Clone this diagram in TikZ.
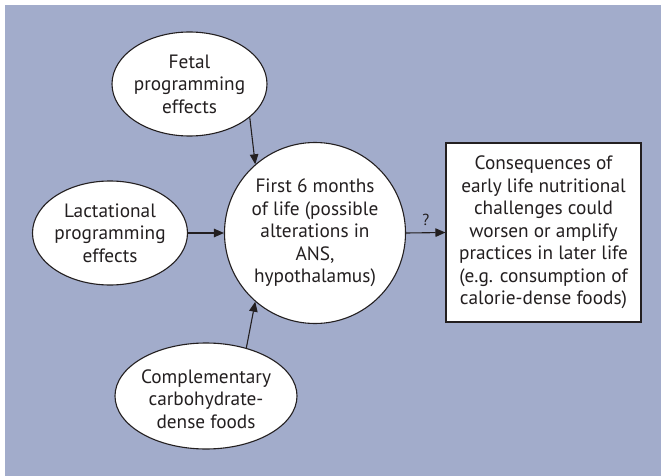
\documentclass[tikz,border=0pt]{standalone}
\usepackage{fontspec}
\setmainfont{PT Sans}
\usetikzlibrary{shapes.geometric,arrows.meta}
\definecolor{bg}{HTML}{A2ACCB}
\definecolor{ink}{HTML}{231F20}
\begin{document}
\begin{tikzpicture}[x=1pt,y=-1pt,
  every node/.style={text=ink, font=\fontsize{19.3}{22.5}\selectfont},
  oval/.style={ellipse, draw=ink, fill=white, line width=1.1pt, inner sep=0pt,
    minimum width=155pt, minimum height=104pt},
  lbl/.style={align=center, inner sep=0pt},
  arr/.style={draw=ink, line width=1.1pt, -{Triangle[length=10pt,width=8.5pt]}}]
\useasboundingbox (0,0) rectangle (661,476);
\fill[bg] (5,5) rectangle (661,476);
\node[oval, label={[lbl]center:Fetal\\programming\\effects}] (fetal) at (189.5,84) {};
\node[oval, label={[lbl]center:Lactational\\programming\\effects}] (lact) at (110,233) {};
\node[oval, minimum width=182pt, minimum height=106pt,
  label={[lbl, yshift=-3pt]center:Complementary\\carbohydrate-\\dense foods}] (comp) at (206,396) {};
\node[circle, draw=ink, fill=white, line width=1.1pt, inner sep=0pt, minimum size=181pt,
  label={[lbl]center:First 6 months\\of life (possible\\alterations in\\ANS,\\hypothalamus)}] (first) at (315,233) {};
\node[draw=ink, fill=white, line width=1.1pt, minimum width=195pt, minimum height=179pt,
  align=center, inner sep=0pt] (cons) at (543.5,232.5)
  {Consequences of\\early life nutritional\\challenges could\\worsen or amplify\\practices in later life\\(e.g. consumption of\\calorie-dense foods)};
\path[arr] (fetal.-29.4) -- (first.131);
\path[arr] (lact.east) -- (first.west);
\path[arr] (comp.50) -- (first.229);
\path[arr] (first.east) -- node[above=3pt, font=\fontsize{16}{18}\selectfont] (q) {?} (cons.west);
\end{tikzpicture}
\end{document}
